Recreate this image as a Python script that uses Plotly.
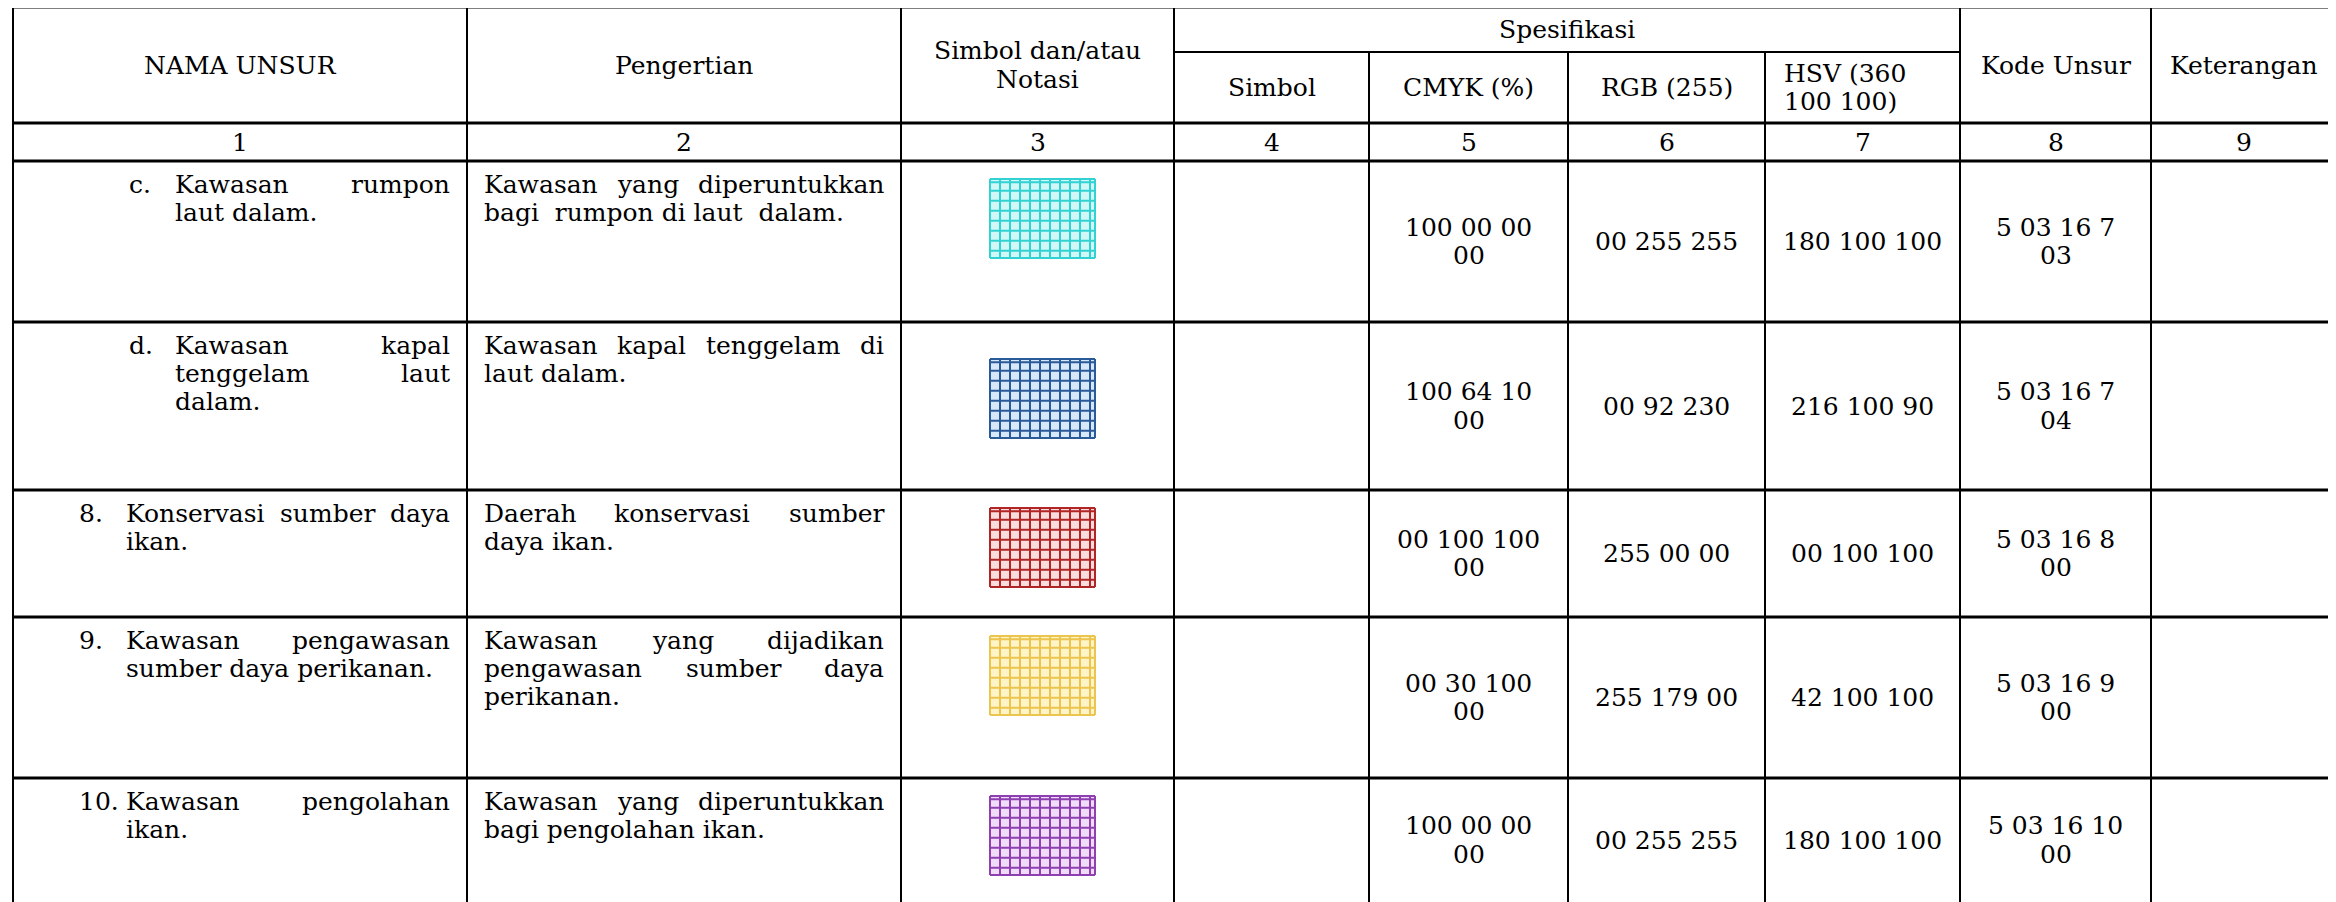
import plotly.graph_objects as go

# ---- table content -------------------------------------------------------
header_main = ["NAMA UNSUR", "Pengertian", ["Simbol dan/atau", "Notasi"]]
header_spec = "Spesifikasi"
header_spec_sub = [["Simbol"], ["CMYK (%)"], ["RGB (255)"], ["HSV (360", "100 100)"]]
header_right = ["Kode Unsur", "Keterangan"]
column_numbers = ["1", "2", "3", "4", "5", "6", "7", "8", "9"]

markers = ["c.", "d.", "8.", "9.", "10."]
name_lines = [
    ["Kawasan rumpon", "laut dalam."],
    ["Kawasan kapal", "tenggelam laut", "dalam."],
    ["Konservasi sumber daya", "ikan."],
    ["Kawasan pengawasan", "sumber daya perikanan."],
    ["Kawasan pengolahan", "ikan."],
]
definition_lines = [
    ["Kawasan yang diperuntukkan", "bagi\u00a0 rumpon di laut\u00a0 dalam."],
    ["Kawasan kapal tenggelam di", "laut dalam."],
    ["Daerah konservasi sumber", "daya ikan."],
    ["Kawasan yang dijadikan", "pengawasan sumber daya", "perikanan."],
    ["Kawasan yang diperuntukkan", "bagi pengolahan ikan."],
]
symbol_colors = ["#33D2D2", "#2A5A98", "#B02626", "#EBC54E", "#8E40B0"]
symbol_fills = ["#D2F7F7", "#D6E8FA", "#FADCDC", "#FFF3C8", "#F0DCF8"]
cmyk = ["100 00 00 00", "100 64 10 00", "00 100 100 00", "00 30 100 00", "100 00 00 00"]
rgb = ["00 255 255", "00 92 230", "255 00 00", "255 179 00", "00 255 255"]
hsv = ["180 100 100", "216 100 90", "00 100 100", "42 100 100", "180 100 100"]
kode = ["5 03 16 7 03", "5 03 16 7 04", "5 03 16 8 00", "5 03 16 9 00", "5 03 16 10 00"]

# ---- geometry (pixels of the page) ---------------------------------------
W, H = 2336, 902
OFF = 8  # body margin of the html page
FONT = "DejaVu Serif"
SIZE = 25
LS = 28.3
COL_X = [13, 467, 901, 1174, 1369, 1568, 1765, 1960, 2151, 2336]
TOP, SUB, HEAD, NUM = 7, 52, 123, 161
ROW_Y = [161, 322, 490, 617, 778, 902]
SYMBOL_TOP = [18, 37, 18, 19, 18]
SYMBOL_W, SYMBOL_H = 105, 79

# rough DejaVu Serif advance widths (em) used to spread justified words
CW = dict(zip("abcdefghijklmnopqrstuvwxyz", [
    .595, .640, .560, .640, .592, .370, .640, .645, .320, .310, .606, .320, .956,
    .645, .602, .640, .640, .478, .513, .402, .645, .565, .856, .564, .565, .523]))
CW.update({" ": .318, ".": .318, "K": .766, "D": .794})


def text_w(s):
    return sum(CW.get(ch, .6) for ch in s) * SIZE


annotations = []


def put(x, y, s, anchor="center", size=SIZE):
    annotations.append(dict(
        x=x, y=y, xref="x", yref="y", text=s, showarrow=False,
        xanchor=anchor, yanchor="middle", font=dict(family=FONT, size=size, color="#000"),
    ))


def block(x, y_mid, lines, anchor="center"):
    y0 = y_mid - LS * (len(lines) - 1) / 2
    for i, s in enumerate(lines):
        put(x, y0 + i * LS, s, anchor)


def paragraph(xl, xr, y_top, lines):
    for i, s in enumerate(lines):
        y = y_top + i * LS
        words = s.split(" ")
        if i == len(lines) - 1 or len(words) == 1:
            put(xl, y, s, "left")
            continue
        widths = [text_w(w) for w in words]
        gap = (xr - xl - sum(widths)) / (len(words) - 1)
        x = xl
        for j, (w, ww) in enumerate(zip(words, widths)):
            if j == 0:
                put(xl, y, w, "left")
            elif j == len(words) - 1:
                put(xr, y, w, "right")
            else:
                put(x + ww / 2, y, w, "center")
            x += ww + gap


def mid(a, b):
    return (a + b) / 2


# header
for k in range(3):
    lines = header_main[k] if isinstance(header_main[k], list) else [header_main[k]]
    block(mid(COL_X[k], COL_X[k + 1]), mid(TOP, HEAD), lines)
put(mid(COL_X[3], COL_X[7]), mid(TOP, SUB), header_spec)
for k, lines in enumerate(header_spec_sub):
    if len(lines) > 1:
        block(COL_X[3 + k] + 17, mid(SUB, HEAD), lines, "left")
    else:
        block(mid(COL_X[3 + k], COL_X[4 + k]), mid(SUB, HEAD), lines)
for k, s in enumerate(header_right):
    put(mid(COL_X[7 + k], COL_X[8 + k]), mid(TOP, HEAD), s)
for k, s in enumerate(column_numbers):
    put(mid(COL_X[k], COL_X[k + 1]), mid(HEAD, NUM), s)

shapes = []
traces = []

for r in range(len(markers)):
    top, bot = ROW_Y[r], ROW_Y[r + 1]
    sub = markers[r][0].isalpha()
    mx, tx = (127, 173) if sub else (77, 124)
    put(mx, top + 23, markers[r], "left")
    paragraph(tx, 452, top + 23, name_lines[r])
    paragraph(482, 886, top + 23, definition_lines[r])

    ym = mid(top, bot)
    block(mid(COL_X[4], COL_X[5]), ym, cmyk[r].rsplit(" ", 1))
    block(mid(COL_X[5], COL_X[6]), ym, [rgb[r]])
    block(mid(COL_X[6], COL_X[7]), ym, [hsv[r]])
    block(mid(COL_X[7], COL_X[8]), ym, kode[r].rsplit(" ", 1))

    # grid symbol
    x0 = mid(COL_X[2], COL_X[3]) + 5 - SYMBOL_W / 2
    y0 = top + SYMBOL_TOP[r]
    x1, y1 = x0 + SYMBOL_W, y0 + SYMBOL_H
    shapes.append(dict(type="rect", xref="x", yref="y", x0=x0, x1=x1, y0=y0, y1=y1,
                       fillcolor=symbol_fills[r], line=dict(width=0), layer="below"))
    gx, gy = [], []
    for k in range(11):
        xx = x0 + 10 * k
        gx += [xx, xx, None]
        gy += [y0, y1, None]
    gx += [x1, x1, None]
    gy += [y0, y1, None]
    for yy in [0, 3.3] + [11.7 + 10 * k for k in range(7)] + [SYMBOL_H]:
        gx += [x0, x1, None]
        gy += [y0 + yy, y0 + yy, None]
    traces.append(go.Scatter(x=gx, y=gy, mode="lines", hoverinfo="skip", showlegend=False,
                             line=dict(color=symbol_colors[r], width=2)))


def hline(y, xa, xb, w=3):
    shapes.append(dict(type="line", xref="x", yref="y", x0=xa, x1=xb, y0=y, y1=y,
                       line=dict(color="#000", width=w)))


def vline(x, ya, yb, w=2):
    shapes.append(dict(type="line", xref="x", yref="y", x0=x, x1=x, y0=ya, y1=yb,
                       line=dict(color="#000", width=w)))


for y in [TOP, HEAD, NUM] + ROW_Y[1:-1]:
    hline(y, COL_X[0] - 1, W + 20)
hline(SUB, COL_X[3], COL_X[7], 2)
for k, x in enumerate(COL_X[:-1]):
    if k in (4, 5, 6):
        vline(x, SUB, H + 20)
    else:
        vline(x, TOP, H + 20)

fig = go.Figure(traces)
fig.update_layout(
    width=W, height=H, margin=dict(l=0, r=0, t=0, b=0),
    paper_bgcolor="white", plot_bgcolor="white",
    xaxis=dict(range=[OFF, W + OFF], visible=False, fixedrange=True),
    yaxis=dict(range=[H + OFF, OFF], visible=False, fixedrange=True),
    shapes=shapes, annotations=annotations, showlegend=False,
)
fig.write_html("out.html")
